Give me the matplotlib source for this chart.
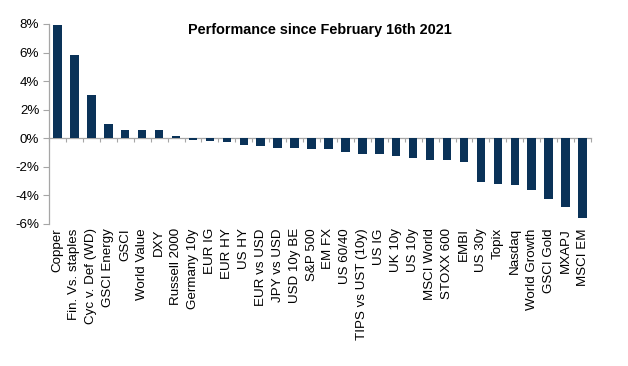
import matplotlib
matplotlib.use("Agg")
import matplotlib.pyplot as plt
import numpy as np
from matplotlib.ticker import FuncFormatter

categories = ["Copper", "Fin. Vs. staples", "Cyc v. Def (WD)", "GSCI Energy", "GSCI",
              "World Value", "DXY", "Russell 2000", "Germany 10y", "EUR IG", "EUR HY",
              "US HY", "EUR vs USD", "JPY vs USD", "USD 10y BE", "S&P 500", "EM FX",
              "US 60/40", "TIPS vs UST (10y)", "US IG", "UK 10y", "US 10y", "MSCI World",
              "STOXX 600", "EMBI", "US 30y", "Topix", "Nasdaq", "World Growth",
              "GSCI Gold", "MXAPJ", "MSCI EM"]
values = [7.95, 5.82, 3.05, 1.0, 0.58, 0.58, 0.58, 0.13, -0.11, -0.16, -0.26,
          -0.46, -0.56, -0.67, -0.68, -0.72, -0.75, -0.96, -1.08, -1.13, -1.27,
          -1.38, -1.5, -1.52, -1.63, -3.05, -3.19, -3.26, -3.64, -4.27, -4.83, -5.57]
yticks = [-6, -4, -2, 0, 2, 4, 6, 8]
title = "Performance since February 16th 2021"

plt.rcParams['font.family'] = ['Liberation Sans', 'DejaVu Sans']

fig = plt.figure(figsize=(6.28, 3.66), dpi=100)
ax = fig.add_axes([49/628, 1-224/366, (591-49)/628, 200/366])

x = np.arange(len(categories))
ax.bar(x, values, width=0.5, color='#0a3258', zorder=2)

ax.set_xlim(-0.5, len(categories) - 0.5)
ax.set_ylim(-6, 8)
ax.set_yticks(yticks)
ax.yaxis.set_major_formatter(FuncFormatter(lambda v, p: f"{v:.0f}%"))
ax.tick_params(axis='y', direction='out', length=4, color='#a6a6a6', labelsize=9.6,
               labelcolor='black', pad=3, width=0.8)

ax.set_xticks(x)
ax.set_xticklabels(categories, rotation=90, fontsize=9.6)
ax.tick_params(axis='x', length=0, pad=3)

for s in ['top', 'right', 'bottom']:
    ax.spines[s].set_visible(False)
ax.spines['left'].set_color('#a6a6a6')
ax.spines['left'].set_linewidth(0.9)

# zero line axis with boundary ticks
sec = ax.secondary_xaxis(6/14)
sec.set_xticks(np.arange(-0.5, len(categories), 1.0))
sec.set_xticklabels([])
sec.tick_params(axis='x', direction='out', length=3, color='#a6a6a6', width=0.8)
sec.spines['bottom'].set_color('#a6a6a6')
sec.spines['bottom'].set_linewidth(0.9)

ax.text(0.5, 0.97, title, transform=ax.transAxes, ha='center', va='center',
        fontsize=10.4, fontweight='bold')

fig.savefig("out.png", dpi=100)
